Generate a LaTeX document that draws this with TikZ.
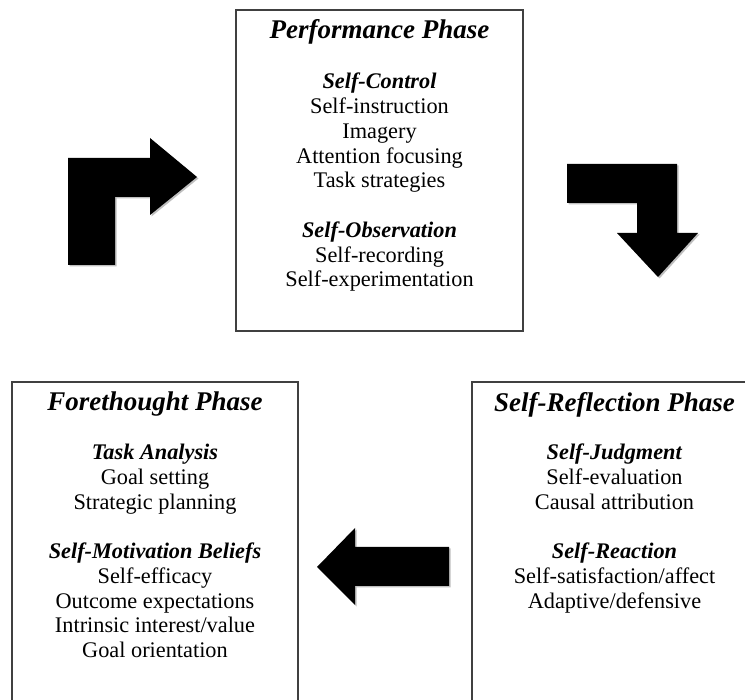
\documentclass[tikz,border=0pt]{standalone}
\usepackage{fontspec}
\setmainfont{Liberation Serif}
\begin{document}
\begin{tikzpicture}[x=1pt,y=-1pt,
  phasebox/.style={draw=black!75,line width=1.3pt,fill=white},
  phasetitle/.style={font=\fontsize{27}{30}\selectfont\bfseries\itshape,anchor=center,inner sep=0pt},
  phasebody/.style={font=\fontsize{22.3}{24.75}\selectfont,align=center,anchor=north,inner sep=0pt},
  bigarrow/.style={fill=black,draw=none},
  arrowshadow/.style={fill=black!25,draw=none}]
\useasboundingbox (0,0) rectangle (745,700);
\clip (0,0) rectangle (745,700);
% boxes
\draw[phasebox] (236,10) rectangle (523,331);
\draw[phasebox] (12,382) rectangle (298,720);
\draw[phasebox] (472,382) rectangle (760,720);
% performance
\node[phasetitle] (pt) at (379.5,31.5) {Performance Phase};
\node[phasebody] (pb) at (379.5,73) {\textbf{\textit{Self-Control}}\\Self-instruction\\Imagery\\Attention focusing\\Task strategies\\[24.75pt]\textbf{\textit{Self-Observation}}\\Self-recording\\Self-experimentation};
% forethought
\node[phasetitle] (ft) at (155,404.5) {Forethought Phase};
\node[phasebody] (fb) at (155,444) {\textbf{\textit{Task Analysis}}\\Goal setting\\Strategic planning\\[24.75pt]\textbf{\textit{Self-Motivation Beliefs}}\\Self-efficacy\\Outcome expectations\\Intrinsic interest/value\\Goal orientation};
% self-reflection
\node[phasetitle] (st) at (614.5,404.5) {Self-Reflection Phase};
\node[phasebody] (sb) at (614.5,444) {\textbf{\textit{Self-Judgment}}\\Self-evaluation\\Causal attribution\\[24.75pt]\textbf{\textit{Self-Reaction}}\\Self-satisfaction/affect\\Adaptive/defensive};
% arrows
\begin{scope}[shift={(1.5,1.5)}]
\fill[arrowshadow] (68,265) -- (68,158) -- (150,158) -- (150,138) -- (197,177) -- (150,215) -- (150,197) -- (115,197) -- (115,265) -- cycle;
\fill[arrowshadow] (567,164) -- (677,164) -- (677,233) -- (698,233) -- (658,277) -- (617,233) -- (637,233) -- (637,203) -- (567,203) -- cycle;
\fill[arrowshadow] (317,567) -- (355,528) -- (355,547) -- (449,547) -- (449,586) -- (355,586) -- (355,605) -- cycle;
\end{scope}
\fill[bigarrow] (68,265) -- (68,158) -- (150,158) -- (150,138) -- (197,177) -- (150,215) -- (150,197) -- (115,197) -- (115,265) -- cycle;
\fill[bigarrow] (567,164) -- (677,164) -- (677,233) -- (698,233) -- (658,277) -- (617,233) -- (637,233) -- (637,203) -- (567,203) -- cycle;
\fill[bigarrow] (317,567) -- (355,528) -- (355,547) -- (449,547) -- (449,586) -- (355,586) -- (355,605) -- cycle;
\end{tikzpicture}
\end{document}
